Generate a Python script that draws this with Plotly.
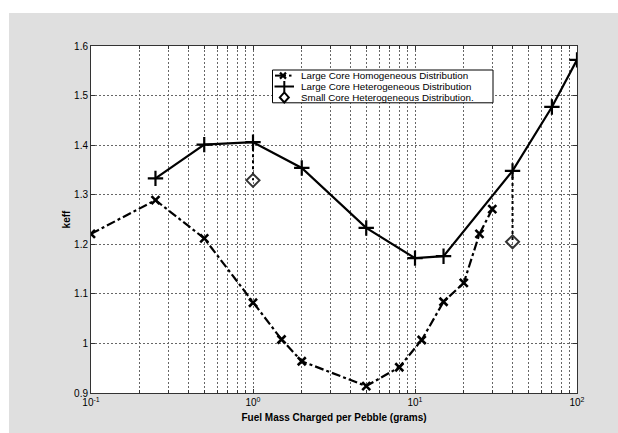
import plotly.graph_objects as go

# ---------------- data ----------------
homog_x = [0.1, 0.25, 0.5, 1.0, 1.5, 2.0, 5.0, 8.0, 11.0, 15.0, 20.0, 25.0, 30.0]
homog_y = [1.221, 1.289, 1.212, 1.082, 1.008, 0.964, 0.914, 0.952, 1.007, 1.084, 1.122, 1.221, 1.271]

hetero_x = [0.25, 0.5, 1.0, 2.0, 5.0, 10.0, 15.0, 40.0, 70.0, 100.0]
hetero_y = [1.333, 1.401, 1.406, 1.354, 1.233, 1.172, 1.176, 1.348, 1.477, 1.572]

small_x = [1.0, 40.0]
small_y = [1.329, 1.205]

legend_labels = ["Large Core Homogeneous Distribution",
                 "Large Core Heterogeneous Distribution",
                 "Small Core Heterogeneous Distribution."]

xtick_vals = [0.1, 1, 10, 100]
xtick_text = ["10<sup>-1</sup>", "10<sup>0</sup>", "10<sup>1</sup>", "10<sup>2</sup>"]
ytick_vals = [0.9, 1.0, 1.1, 1.2, 1.3, 1.4, 1.5, 1.6]
ytick_text = ["0.9", "1", "1.1", "1.2", "1.3", "1.4", "1.5", "1.6"]

x_title = "Fuel Mass Charged per Pebble (grams)"
y_title = "keff"

# ---------------- layout geometry ----------------
W, H = 618, 433
L, R, T, B = 91, 577, 46, 393


def px(X):
    return (X - L) / (R - L)


def py(Y):
    return (B - Y) / (B - T)


FONT = "Liberation Sans, Arial, sans-serif"

fig = go.Figure()

# connecting dotted lines from large-core heterogeneous to small-core points
for sx, sy in zip(small_x, small_y):
    hy = hetero_y[hetero_x.index(sx)]
    fig.add_trace(go.Scatter(x=[sx, sx], y=[hy, sy], mode="lines",
                             line=dict(color="black", width=2, dash="dot"),
                             showlegend=False, hoverinfo="skip"))

fig.add_trace(go.Scatter(
    x=homog_x, y=homog_y, mode="lines+markers", name=legend_labels[0],
    line=dict(color="black", width=2.2, dash="dashdot"),
    marker=dict(symbol="x-thin", size=8, line=dict(color="black", width=2.6)),
    showlegend=False))

fig.add_trace(go.Scatter(
    x=hetero_x, y=hetero_y, mode="lines+markers", name=legend_labels[1],
    line=dict(color="black", width=2.2),
    marker=dict(symbol="cross-thin", size=11, line=dict(color="black", width=2.2)),
    showlegend=False))

fig.add_trace(go.Scatter(
    x=small_x, y=small_y, mode="markers", name=legend_labels[2],
    marker=dict(symbol="diamond-open", size=10, color="#333333",
                line=dict(color="#333333", width=2)),
    showlegend=False))

# minor grid positions for log axis
minor_vals = []
for e in (-1, 0, 1):
    for k in range(2, 10):
        minor_vals.append(k * 10 ** e)

shapes = [
    # gray figure background with white strip at top/left
    dict(type="rect", xref="paper", yref="paper", layer="below",
         x0=px(9), x1=px(W + 5), y0=py(H + 5), y1=py(13),
         fillcolor="#dfdfdf", line=dict(width=0)),
    dict(type="rect", xref="paper", yref="paper", layer="below",
         x0=0, x1=1, y0=0, y1=1, fillcolor="white", line=dict(width=0)),
]

# manual legend
rows = [75.6, 86.5, 97.4]
lb_x0, lb_x1, lb_y0, lb_y1 = 272.5, 493, 70, 102.8
shapes.append(dict(type="rect", xref="paper", yref="paper", layer="above",
                   x0=px(lb_x0), x1=px(lb_x1), y0=py(lb_y1), y1=py(lb_y0),
                   fillcolor="white", line=dict(color="black", width=1)))
# row 1: dash-dot + x
r = rows[0]
shapes.append(dict(type="line", xref="paper", yref="paper", x0=px(275), x1=px(286),
                   y0=py(r), y1=py(r), line=dict(color="black", width=2)))
shapes.append(dict(type="line", xref="paper", yref="paper", x0=px(289), x1=px(291.5),
                   y0=py(r), y1=py(r), line=dict(color="black", width=2)))
for d in (1, -1):
    shapes.append(dict(type="line", xref="paper", yref="paper",
                       x0=px(283 - 3), x1=px(283 + 3), y0=py(r - 3 * d), y1=py(r + 3 * d),
                       line=dict(color="black", width=2.2)))
# row 2: solid + plus
r = rows[1]
shapes.append(dict(type="line", xref="paper", yref="paper", x0=px(274.5), x1=px(294),
                   y0=py(r), y1=py(r), line=dict(color="black", width=2)))
shapes.append(dict(type="line", xref="paper", yref="paper", x0=px(284.3), x1=px(284.3),
                   y0=py(r - 5.5), y1=py(r + 5.5), line=dict(color="black", width=2)))
# row 3: diamond
r = rows[2]
cx = 284.3
path = "M {} {} L {} {} L {} {} L {} {} Z".format(
    px(cx), py(r - 5), px(cx + 4.5), py(r), px(cx), py(r + 5), px(cx - 4.5), py(r))
shapes.append(dict(type="path", xref="paper", yref="paper", path=path,
                   fillcolor="white", line=dict(color="black", width=2)))

annotations = []
for lab, r in zip(legend_labels, rows):
    annotations.append(dict(text=lab, xref="paper", yref="paper", x=px(299.5), y=py(r),
                            xanchor="left", yanchor="middle", showarrow=False,
                            borderpad=0,
                            font=dict(family=FONT, size=9.8, color="black")))

fig.update_layout(
    width=W, height=H,
    margin=dict(l=L, r=W - R, t=T, b=H - B, pad=0),
    paper_bgcolor="white",
    plot_bgcolor="white",
    font=dict(family=FONT, size=10, color="black"),
    showlegend=False,
    shapes=shapes,
    annotations=annotations,
)

fig.update_xaxes(
    type="log", range=[-1, 2],
    tickvals=xtick_vals, ticktext=xtick_text,
    showgrid=True, gridcolor="#666666", gridwidth=1, griddash="2px,2px",
    minor=dict(tickvals=minor_vals, showgrid=True, gridcolor="#666666",
               gridwidth=1, griddash="2px,2px", ticks="inside", ticklen=3,
               tickcolor="#333333"),
    ticks="inside", ticklen=4, tickcolor="#333333",
    showline=True, linecolor="#333333", linewidth=1, mirror="ticks",
    tickfont=dict(family=FONT, size=10, color="black"),
    title=dict(text="<b>" + x_title + "</b>", standoff=6,
               font=dict(family=FONT, size=10, color="black")),
    zeroline=False,
)

fig.update_yaxes(
    range=[0.9, 1.6],
    tickvals=ytick_vals, ticktext=ytick_text,
    showgrid=True, gridcolor="#666666", gridwidth=1, griddash="2px,2px",
    ticks="inside", ticklen=4, tickcolor="#333333",
    showline=True, linecolor="#333333", linewidth=1, mirror="ticks",
    tickfont=dict(family=FONT, size=10, color="black"),
    title=dict(text="<b>" + y_title + "</b>", standoff=1,
               font=dict(family=FONT, size=10, color="black")),
    zeroline=False,
)

fig.write_html("out.html")
